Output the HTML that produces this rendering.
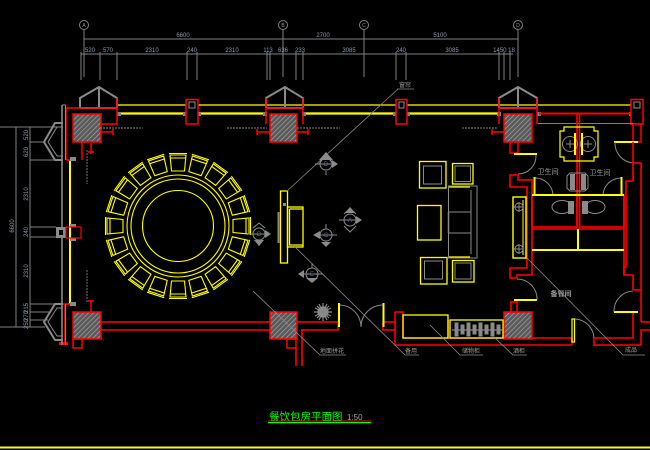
<!DOCTYPE html>
<html><head><meta charset="utf-8"><style>
html,body{margin:0;padding:0;background:#000;}
svg{display:block}
text{font-family:"Liberation Sans","Noto Sans CJK SC",sans-serif;}
</style></head><body>
<svg width="650" height="450" viewBox="0 0 650 450" xmlns="http://www.w3.org/2000/svg">
<defs>
<pattern id="h" width="3.5" height="3.5" patternUnits="userSpaceOnUse" patternTransform="rotate(45)">
<rect width="3.5" height="3.5" fill="#5a5a5a"/>
<line x1="0" y1="0" x2="0" y2="3.5" stroke="#a8a8a8" stroke-width="1.3"/>
</pattern>
</defs>
<rect width="650" height="450" fill="#000"/>

<!-- axis + dimensions -->
<g stroke="#808080" fill="none" stroke-width="1">
<circle cx="84" cy="25" r="4.5"/><circle cx="283" cy="25" r="4.5"/><circle cx="364" cy="25" r="4.5"/><circle cx="518" cy="25" r="4.5"/>
<path d="M84 30V77M283 30V77M364 30V77M518 30V77"/>
<path d="M84 39H518M81 54H513"/>
<path d="M81 52V80M100 52V80M117 52V80M187 52V80M197 52V80M267 52V80M270 52V80M296 52V80M303 52V80M396 52V80M406 52V80M499 52V80M504 52V80M510 52V80"/>
</g>
<g fill="#8a9aae" font-size="5" text-anchor="middle">
<text x="84" y="27">A</text><text x="283" y="27">B</text><text x="364" y="27">C</text><text x="518" y="27">D</text>
</g>
<g fill="#8a9aae" font-size="6" text-anchor="middle">
<text x="183" y="37">6600</text><text x="323" y="37">2700</text><text x="440" y="37">5100</text>
<text x="90" y="52">520</text><text x="108" y="52">570</text><text x="152" y="52">2310</text><text x="192" y="52">240</text><text x="232" y="52">2310</text><text x="268" y="52">113</text><text x="283" y="52">636</text><text x="300" y="52">233</text><text x="349" y="52">3085</text><text x="401" y="52">240</text><text x="452" y="52">3085</text><text x="504" y="52">1450 18</text>
</g>

<!-- left dimensions -->
<g stroke="#808080" fill="none" stroke-width="1">
<path d="M16 127V327M30 127V327M0 127H62M30 142H44M30 160H63M30 227H56M30 237H56M30 304H63M30 312H50M30 320H48M0 327H45"/>
</g>
<g fill="#8a9aae" font-size="6" text-anchor="middle">
<text transform="translate(14 226) rotate(-90)">6600</text>
<text transform="translate(28 135) rotate(-90)">520</text>
<text transform="translate(28 152) rotate(-90)">620</text>
<text transform="translate(28 194) rotate(-90)">2310</text>
<text transform="translate(28 232) rotate(-90)">240</text>
<text transform="translate(28 271) rotate(-90)">2310</text>
<text transform="translate(28 308) rotate(-90)">215</text>
<text transform="translate(28 316) rotate(-90)">270</text>
<text transform="translate(28 324) rotate(-90)">250</text>
</g>

<!-- top walls -->
<g stroke="#ffff00" fill="none">
<path d="M117 105H632" stroke-width="1.2"/>
<path d="M120 113.5H266M303 113.5H498" stroke-width="2.2"/>
</g>
<g fill="#808080">
<rect x="117" y="112" width="4" height="4"/><rect x="263" y="112" width="4" height="4"/><rect x="302" y="112" width="4" height="4"/><rect x="497" y="112" width="4" height="4"/><rect x="537" y="112" width="4" height="4"/><rect x="629" y="112" width="4" height="4"/>
<rect x="183" y="112" width="3" height="4"/><rect x="198" y="112" width="3" height="4"/><rect x="393" y="112" width="3" height="4"/><rect x="407" y="112" width="3" height="4"/>
</g>
<g stroke="#ff0000" fill="#000" stroke-width="1.5">
<rect x="186" y="99.5" width="12" height="24.5"/><rect x="396" y="99.5" width="11" height="24.5"/><rect x="631" y="99.5" width="12" height="24.5"/><rect x="633" y="124" width="8" height="18"/>
</g>
<g stroke="#909090" fill="none" stroke-width="1">
<rect x="189" y="102" width="6" height="6"/><rect x="399" y="102" width="5" height="6"/><rect x="634" y="102" width="6" height="6"/>
</g>
<path d="M539 113.5H631" stroke="#ff0000" stroke-width="2"/>
<path d="M538 123.5H633" stroke="#808080" stroke-width="1"/>

<!-- pavilions -->
<g stroke="#8a8a8a" fill="none" stroke-width="2">
<path d="M80 108V98L99 87L117 98V108M99 88V108M80 108H117"/>
<path d="M266 108V98L285 87L303 98V108M285 88V108M266 108H303"/>
<path d="M499 108V98L518 87L537 98V108M518 88V108M499 108H537"/>
</g>
<g stroke="#ff0000" fill="none" stroke-width="1.5">
<path d="M66 160V108H117M117 98V124H101"/>
<path d="M266 98V124M303 98V124M266 108H303"/>
<path d="M499 98V124M537 98V124M499 108H537"/>
</g>

<!-- hatched columns -->
<g fill="url(#h)" stroke="#ff0000" stroke-width="1.5">
<rect x="73" y="114" width="28" height="28"/><rect x="270" y="114" width="27" height="28"/><rect x="504" y="114" width="28" height="28"/>
<rect x="73" y="312" width="28" height="27"/><rect x="270" y="312" width="27" height="27"/><rect x="504" y="312" width="28" height="27"/>
</g>

<!-- small red fixtures -->
<g stroke="#ff0000" fill="none" stroke-width="1.5">
<path d="M82 142V160M91 143V154M88 152H94M101 132H113M113 129V135"/>
<path d="M257 132H270M257 129V135M297 132H308M308 129V135"/>
<path d="M492 132H504M492 129V135"/>
<rect x="510" y="142" width="8" height="11" fill="#000"/>
<path d="M65 304V343M56 304H70M91 300V313M88 301H94"/>
<rect x="73" y="339" width="9" height="9"/>
<rect x="287" y="339" width="9" height="9"/>
</g>
<rect x="59" y="342" width="9" height="3" fill="#ff0000"/>

<!-- left window wall -->
<g stroke="#8a8a8a" fill="none">
<path d="M62 105V345" stroke-width="1.6"/>
<path d="M65.5 105V160M65.5 304V345" stroke-width="1"/>
<path d="M62 105H66" stroke-width="1"/>
<path d="M63 123L55 123L44 142L55 160L63 160" stroke-width="2"/>
<path d="M63 127L57 127L48 142L57 156L63 156" stroke-width="1"/>
<path d="M63 304L55 304L44 322L55 340L63 340" stroke-width="2"/>
<path d="M63 308L57 308L48 322L57 336L63 336" stroke-width="1"/>
</g>
<path d="M70 160V304" stroke="#ffff00" stroke-width="2"/>
<path d="M66 160H70M66 304H70" stroke="#ff0000" stroke-width="1.5"/>
<g fill="#8a8a8a">
<rect x="70" y="157" width="6" height="4"/><rect x="70" y="302" width="6" height="4"/>
<rect x="56" y="227" width="10" height="11"/><rect x="70" y="224" width="6" height="3"/><rect x="70" y="238" width="6" height="3"/>
</g>
<rect x="59" y="230" width="4" height="5" fill="#000"/>
<rect x="66" y="227" width="15" height="11" fill="none" stroke="#ff0000" stroke-width="1.2"/>

<!-- curtain wavy lines -->
<g stroke="#808080" fill="none" stroke-width="0.9" stroke-dasharray="2 1">
<path d="M100 128H143M227 128H267M297 128H340M462 128H497"/>
<path d="M87 150V184M87 270V303"/>
</g>

<!-- bottom walls -->
<g stroke="#ff0000" fill="none" stroke-width="1.6">
<path d="M101 322H270M101 330H270"/>
<path d="M297 322H338V330H302V366M296 348V366"/>
<path d="M383 322H395M383 322V330H395"/>
<path d="M395 312V345H572M395 312H403V338H504M448 320V338M532 338H572V345"/>
<path d="M572 338V342"/>
<path d="M594 338H633V313M594 338V345H641V330H650M641 322H650M641 322V290H633"/>
</g>
<g stroke="#ffff00" fill="none">
<path d="M339 303V327M383.5 303V327" stroke-width="2"/>
<rect x="403" y="315" width="45" height="23" stroke-width="1.3"/>
<rect x="450" y="320" width="53" height="18" stroke-width="1.3"/>
<rect x="572" y="319" width="2.5" height="23" stroke-width="1.2"/>
<path d="M614 312H638M614 142H638M514 154H537M514 300H537" stroke-width="2"/>
</g>
<!-- shelf items -->
<g stroke="#8a8a8a" fill="#8a8a8a">
<path d="M452 330H502" stroke-width="1.2"/>
<rect x="455" y="323" width="3" height="13"/><rect x="461" y="325" width="3" height="9"/><rect x="467" y="323" width="3" height="13"/><rect x="473" y="325" width="3" height="9"/><rect x="479" y="323" width="3" height="13"/><rect x="485" y="325" width="3" height="9"/><rect x="491" y="323" width="3" height="13"/><rect x="497" y="325" width="3" height="9"/>
</g>
<!-- door arcs -->
<g stroke="#8a8a8a" fill="none" stroke-width="1">
<path d="M340 305A22 22 0 0 1 361 327"/>
<path d="M383 305A22 22 0 0 0 361 327"/>
<path d="M575 319A20 20 0 0 1 594 338"/>
<path d="M614 312A20 20 0 0 1 633 291"/>
<path d="M615 142A20 20 0 0 0 633 163"/>
<path d="M536 155A18 18 0 0 1 518 174"/>
<path d="M517 279A20 20 0 0 1 537 300"/>
<path d="M535 178A18 18 0 0 1 553 195"/>
<path d="M621 178A18 18 0 0 0 603 195"/>
</g>

<!-- right area walls -->
<g stroke="#ff0000" fill="none" stroke-width="1.6">
<path d="M633 142V163H641V290M633 163V181H626V267H624V275H633V290"/>
<path d="M510 175H518V180H532V275H517V278H510V268H527V187H510Z"/>
<path d="M577 113V227M579.5 113V227"/>
<rect x="532" y="195" width="45" height="32"/><rect x="579.5" y="195" width="44.5" height="32"/>
<path d="M532 229H624V275M624 195V229"/>
<rect x="511" y="302" width="6" height="10"/>
</g>
<g stroke="#ffff00" fill="none">
<path d="M532 195H624M532 250H624" stroke-width="2"/>
<path d="M578 229V250M534.5 177V195M621.5 177V195" stroke-width="2"/>
</g>
<!-- sinks -->
<path d="M564 127H594V131H598V157H594V161H564V157H560V131H564Z" stroke="#ffff00" fill="none" stroke-width="1.2"/>
<g stroke="#8a8a8a" fill="none" stroke-width="1">
<circle cx="570" cy="144" r="7.5"/><circle cx="588" cy="144" r="7.5"/>
<path d="M566 144H574M570 140V148M584 144H592M588 140V148"/>
</g>
<path d="M575 133V155M582 133V155" stroke="#ffff00" stroke-width="2"/>
<!-- urinal / toilets -->
<g stroke="#8a8a8a" fill="none" stroke-width="1">
<path d="M567 176L570 173H585L588 176V188L585 191H570L567 188Z"/>
<ellipse cx="562" cy="207" rx="10" ry="6.5"/><ellipse cx="595" cy="207" rx="10" ry="6.5"/>
</g>
<g fill="#8a8a8a">
<rect x="570" y="174" width="5" height="16"/><rect x="581" y="174" width="5" height="16"/>
<rect x="568" y="201" width="6" height="13"/><rect x="582" y="201" width="6" height="13"/>
</g>
<g fill="#9a9a9a" font-size="7" text-anchor="middle">
<text x="548" y="174">卫生间</text><text x="600" y="175">卫生间</text>
<text x="561" y="296" font-weight="bold">备餐间</text>
</g>
<!-- cabinet -->
<rect x="513" y="197" width="13" height="61" stroke="#ffff00" fill="none" stroke-width="1.4"/>
<path d="M523 200V255" stroke="#ffff00" stroke-width="1"/>
<g stroke="#8a8a8a" fill="none" stroke-width="1">
<circle cx="519" cy="207" r="4"/><circle cx="519" cy="249" r="4"/>
<path d="M514 207H524M519 202V212M514 249H524M519 244V254"/>
</g>

<!-- round table -->
<g stroke="#ffff00" fill="none" stroke-width="1.1">
<circle cx="178" cy="226" r="35.5"/>
<circle cx="178" cy="226" r="47"/>
<circle cx="178" cy="226" r="51"/>
</g>
<g stroke="#ffff00" fill="none" stroke-width="1.1">
<path transform="translate(178 226) rotate(0)" d="M-8 -71H8L6.5 -55H-6.5ZM-8 -68H8M-9 -72.5H9"/>
<path transform="translate(178 226) rotate(18)" d="M-8 -71H8L6.5 -55H-6.5ZM-8 -68H8M-9 -72.5H9"/>
<path transform="translate(178 226) rotate(36)" d="M-8 -71H8L6.5 -55H-6.5ZM-8 -68H8M-9 -72.5H9"/>
<path transform="translate(178 226) rotate(54)" d="M-8 -71H8L6.5 -55H-6.5ZM-8 -68H8M-9 -72.5H9"/>
<path transform="translate(178 226) rotate(72)" d="M-8 -71H8L6.5 -55H-6.5ZM-8 -68H8M-9 -72.5H9"/>
<path transform="translate(178 226) rotate(90)" d="M-8 -71H8L6.5 -55H-6.5ZM-8 -68H8M-9 -72.5H9"/>
<path transform="translate(178 226) rotate(108)" d="M-8 -71H8L6.5 -55H-6.5ZM-8 -68H8M-9 -72.5H9"/>
<path transform="translate(178 226) rotate(126)" d="M-8 -71H8L6.5 -55H-6.5ZM-8 -68H8M-9 -72.5H9"/>
<path transform="translate(178 226) rotate(144)" d="M-8 -71H8L6.5 -55H-6.5ZM-8 -68H8M-9 -72.5H9"/>
<path transform="translate(178 226) rotate(162)" d="M-8 -71H8L6.5 -55H-6.5ZM-8 -68H8M-9 -72.5H9"/>
<path transform="translate(178 226) rotate(180)" d="M-8 -71H8L6.5 -55H-6.5ZM-8 -68H8M-9 -72.5H9"/>
<path transform="translate(178 226) rotate(198)" d="M-8 -71H8L6.5 -55H-6.5ZM-8 -68H8M-9 -72.5H9"/>
<path transform="translate(178 226) rotate(216)" d="M-8 -71H8L6.5 -55H-6.5ZM-8 -68H8M-9 -72.5H9"/>
<path transform="translate(178 226) rotate(234)" d="M-8 -71H8L6.5 -55H-6.5ZM-8 -68H8M-9 -72.5H9"/>
<path transform="translate(178 226) rotate(252)" d="M-8 -71H8L6.5 -55H-6.5ZM-8 -68H8M-9 -72.5H9"/>
<path transform="translate(178 226) rotate(270)" d="M-8 -71H8L6.5 -55H-6.5ZM-8 -68H8M-9 -72.5H9"/>
<path transform="translate(178 226) rotate(288)" d="M-8 -71H8L6.5 -55H-6.5ZM-8 -68H8M-9 -72.5H9"/>
<path transform="translate(178 226) rotate(306)" d="M-8 -71H8L6.5 -55H-6.5ZM-8 -68H8M-9 -72.5H9"/>
<path transform="translate(178 226) rotate(324)" d="M-8 -71H8L6.5 -55H-6.5ZM-8 -68H8M-9 -72.5H9"/>
<path transform="translate(178 226) rotate(342)" d="M-8 -71H8L6.5 -55H-6.5ZM-8 -68H8M-9 -72.5H9"/>
</g>

<!-- TV unit -->
<g stroke="#ffff00" fill="none" stroke-width="1.3">
<rect x="280.5" y="191" width="7" height="72"/>
<rect x="287.5" y="207" width="15.5" height="40"/>
<path d="M289.5 209V245H303M289.5 209H303"/>
</g>
<rect x="277.5" y="212" width="2" height="31" fill="#8a8a8a"/>
<rect x="283" y="203" width="3" height="3" fill="#8a8a8a"/>

<!-- sofa set -->
<g stroke="#ffff00" fill="none" stroke-width="1.3">
<rect x="419.5" y="161.5" width="26.5" height="26.5"/>
<rect x="452.5" y="163.5" width="20.5" height="20.5"/>
<rect x="417.5" y="205.5" width="23.5" height="34.5"/>
<rect x="420.5" y="257.5" width="26.5" height="26.5"/>
<rect x="452.5" y="260.5" width="21.5" height="21.5"/>
<path d="M449 187H470M449 257H470M448.5 212V233"/>
</g>
<g stroke="#8a8a8a" fill="none" stroke-width="1">
<rect x="423.5" y="166" width="18" height="18"/>
<rect x="455" y="166" width="15.5" height="15.5"/>
<rect x="448.5" y="186" width="28.5" height="72"/>
<path d="M471 190V254M448.5 212H471M448.5 233H471"/>
<rect x="424.5" y="261" width="18" height="18"/>
<rect x="455" y="263" width="16" height="16"/>
</g>

<!-- view markers -->
<g stroke="#8a8a8a" fill="none" stroke-width="1">
<circle cx="326" cy="164" r="6"/><path d="M315 164H337M319 164L326 155L333 164M326 171V175"/>
<circle cx="259" cy="234" r="6"/><path d="M248 234H270M253 228L259 223L265 228M259 240V246"/>
<circle cx="326" cy="235" r="6"/><path d="M315 235H337M326 224V229M326 241V246"/>
<circle cx="350" cy="220" r="6"/><path d="M339 220H361M344 214L350 208L356 214M344 226L350 232L356 226"/>
<circle cx="312" cy="274" r="6"/><path d="M301 274H323M312 263V268"/>
</g>
<g fill="#8a8a8a">
<path d="M319 160L326 152L333 160Z"/><path d="M332 160L338 164L332 168Z"/>
<path d="M265 230L271 234L265 238Z"/><path d="M254 240L264 240L259 246Z"/>
<path d="M320 231L313 235L320 239Z"/><path d="M321 242H331L326 247Z"/>
<path d="M356 216L362 220L356 224Z"/><path d="M345 213H355L350 207Z"/>
<path d="M306 278H318L312 283Z"/><path d="M304 270L298 274L304 278Z"/>
</g>
<g fill="#5a6aa0" font-size="6" text-anchor="middle">
<text x="326" y="166">D</text><text x="259" y="236">B</text><text x="326" y="237">C</text><text x="350" y="222">A</text><text x="312" y="276">E</text>
</g>

<!-- plant -->
<g stroke="#8a8a8a" stroke-width="1.2">
<circle cx="323" cy="312" r="5" fill="#8a8a8a"/>
<path d="M323 303V321M314 312H332M317 306L329 318M329 306L317 318M319 304L327 320M327 304L319 320M315 308L331 316M331 308L315 316"/>
</g>

<!-- leader lines -->
<g stroke="#8a8a8a" fill="none" stroke-width="0.8">
<path d="M398 89L286 192M397 89H414"/>
<path d="M292 244L405 355H419"/>
<path d="M253 291L320 355H346"/>
<path d="M430 325L460 355H483"/>
<path d="M495 338L513 355H527"/>
<path d="M527 258L623 355H645"/>
</g>
<g fill="#9a9a9a" font-size="6">
<text x="399" y="87">窗帘</text>
<text x="320" y="353">地面拼花</text>
<text x="405" y="353">备用</text>
<text x="462" y="353">储物柜</text>
<text x="513" y="353">酒柜</text>
<text x="625" y="352">成品</text>
</g>

<!-- title -->
<text x="269" y="420" fill="#00ff00" font-size="10.5" font-family="'Liberation Sans','Noto Sans CJK SC',sans-serif">餐饮包房平面图</text>
<text x="347" y="420" fill="#a0a0a0" font-size="8">1:50</text>
<path d="M268 421H371" stroke="#ff0000" stroke-width="1"/>
<path d="M268 422.6H371" stroke="#00ff00" stroke-width="1.2"/>
<path d="M0 447.5H650" stroke="#ffff00" stroke-width="2"/>
</svg>
</body></html>
